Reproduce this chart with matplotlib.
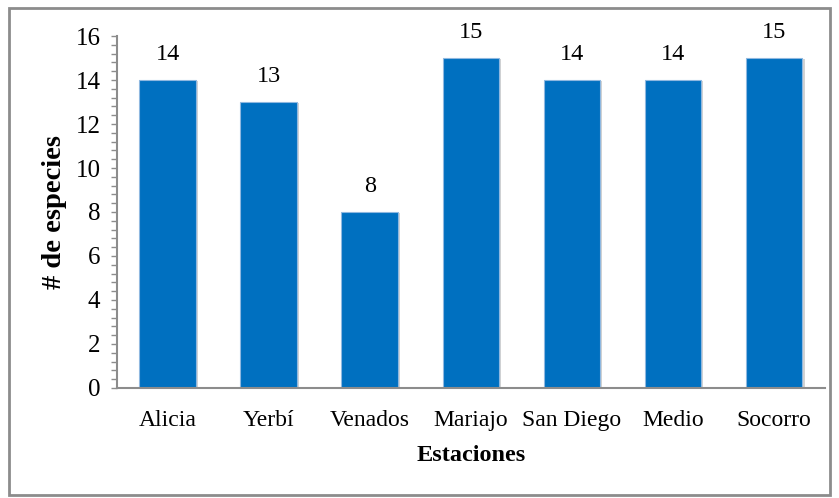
import numpy as np
import matplotlib
matplotlib.use('Agg')
from matplotlib import pyplot as plt
from matplotlib import patheffects
from matplotlib.ticker import MultipleLocator
from matplotlib.patches import Rectangle

estaciones = ['Alicia', 'Yerbí', 'Venados', 'Mariajo', 'San Diego', 'Medio', 'Socorro']
especies = [14, 13, 8, 15, 14, 14, 15]

plt.rcParams['font.family'] = ['Liberation Serif', 'DejaVu Serif']
plt.rcParams['font.size'] = 17

fig = plt.figure(figsize=(8.39, 4.98), dpi=100)
ax = fig.add_axes([0.1395, 0.2209, 0.8435, 0.7068])

# Gray border around the whole chart
fig.patches.append(Rectangle((0.011, 0.006), 0.978, 0.978, transform=fig.transFigure,
                             fill=False, edgecolor='#8c8c8c', linewidth=2))

x = np.arange(len(estaciones))
bars = ax.bar(x, especies, width=0.56, color='#0070C0', edgecolor='#8fb8e0', linewidth=0.8)
for b in bars:
    b.set_path_effects([patheffects.SimplePatchShadow(offset=(1.5, -1), shadow_rgbFace='#c8c8c8', alpha=0.8),
                        patheffects.Normal()])

# Value labels above the bars
for xi, v in zip(x, especies):
    ax.annotate(str(v), (xi, v), xytext=(0, 11), textcoords='offset points',
                ha='center', va='bottom', fontsize=17.5)

ax.set_xlim(-0.5, len(estaciones) - 0.5)
ax.set_ylim(0, 16)
ax.yaxis.set_major_locator(MultipleLocator(2))
ax.yaxis.set_minor_locator(MultipleLocator(0.4))
ax.set_xticks(x)
ax.set_xticklabels(estaciones)

ax.tick_params(axis='x', length=0, pad=16)
ax.tick_params(axis='y', which='both', length=4, width=1, color='#8c8c8c', pad=8, labelsize=18)

for s in ['top', 'right']:
    ax.spines[s].set_visible(False)
for s in ['left', 'bottom']:
    ax.spines[s].set_color('#8c8c8c')
    ax.spines[s].set_linewidth(1.5)

ax.set_xlabel('Estaciones', fontweight='bold', fontsize=17.5, labelpad=10)
ax.set_ylabel('# de especies', fontweight='bold', fontsize=20.5, labelpad=6)

plt.savefig('out.png', dpi=100)
